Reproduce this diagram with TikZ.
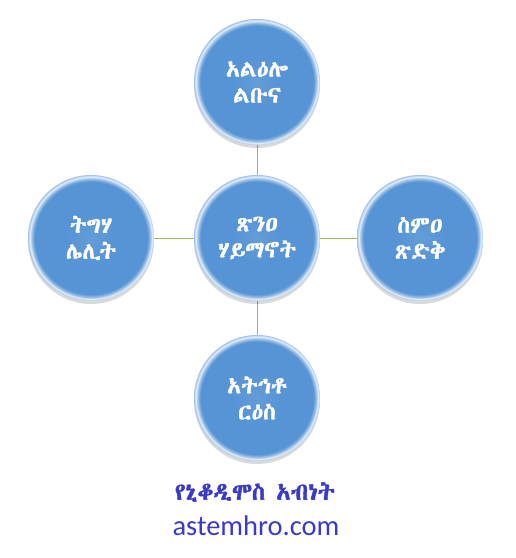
\documentclass[tikz,border=0pt]{standalone}
\usepackage{fontspec}
\setmainfont{Carlito}
\newfontfamily\eth[Script=Ethiopic,AutoFakeBold=1.5]{Abyssinica SIL}
\usetikzlibrary{shadows,backgrounds}
\definecolor{bub}{RGB}{86,148,213}
\definecolor{link}{RGB}{155,187,89}
\definecolor{captn}{RGB}{58,58,200}
\pgfdeclareradialshading{bubble}{\pgfpoint{0bp}{0bp}}{color(0bp)=(bub!92!white); color(10bp)=(bub); color(22.4bp)=(bub); color(23.6bp)=(bub!55!white); color(24.3bp)=(bub!15!white); color(25bp)=(bub!55!white); color(50bp)=(bub!55!white)}
\begin{document}
\begin{tikzpicture}[x=1pt,y=-1pt,
  ball/.style={circle, minimum size=126pt, inner sep=0pt, shading=bubble, text=white,
    font=\eth\bfseries\fontsize{23}{26}\selectfont, align=center,
    drop shadow={shadow xshift=0pt, shadow yshift=-3pt, opacity=0.15, fill=black}},
  link/.style={draw=link, line width=0.9pt}]
\useasboundingbox (0,0) rectangle (516,558);
\node[ball] (c) at (257,238) {ጽንዐ\\ሃይማኖት};
\node[ball] (t) at (257,82) {አልዕሎ\\ልቡና};
\node[ball] (l) at (91,238) {ትግሃ\\ሌሊት};
\node[ball] (r) at (420,238) {ስምዐ\\ጽድቅ};
\node[ball] (b) at (257,398) {አትኅቶ\\ርዕስ};
\begin{scope}[on background layer]
\fill[white] (0,0) rectangle (516,558);
\draw[link] (c) -- (t);
\draw[link] (c) -- (l);
\draw[link] (c) -- (r);
\draw[link] (c) -- (b);
\end{scope}
\node[font=\eth\bfseries\fontsize{24}{28}\selectfont, text=captn] (cap) at (255,492) {የኒቆዲሞስ አብነት};
\node[font=\fontsize{28.5}{32}\selectfont, text=captn] (web) at (256,526) {astemhro.com};
\end{tikzpicture}
\end{document}
